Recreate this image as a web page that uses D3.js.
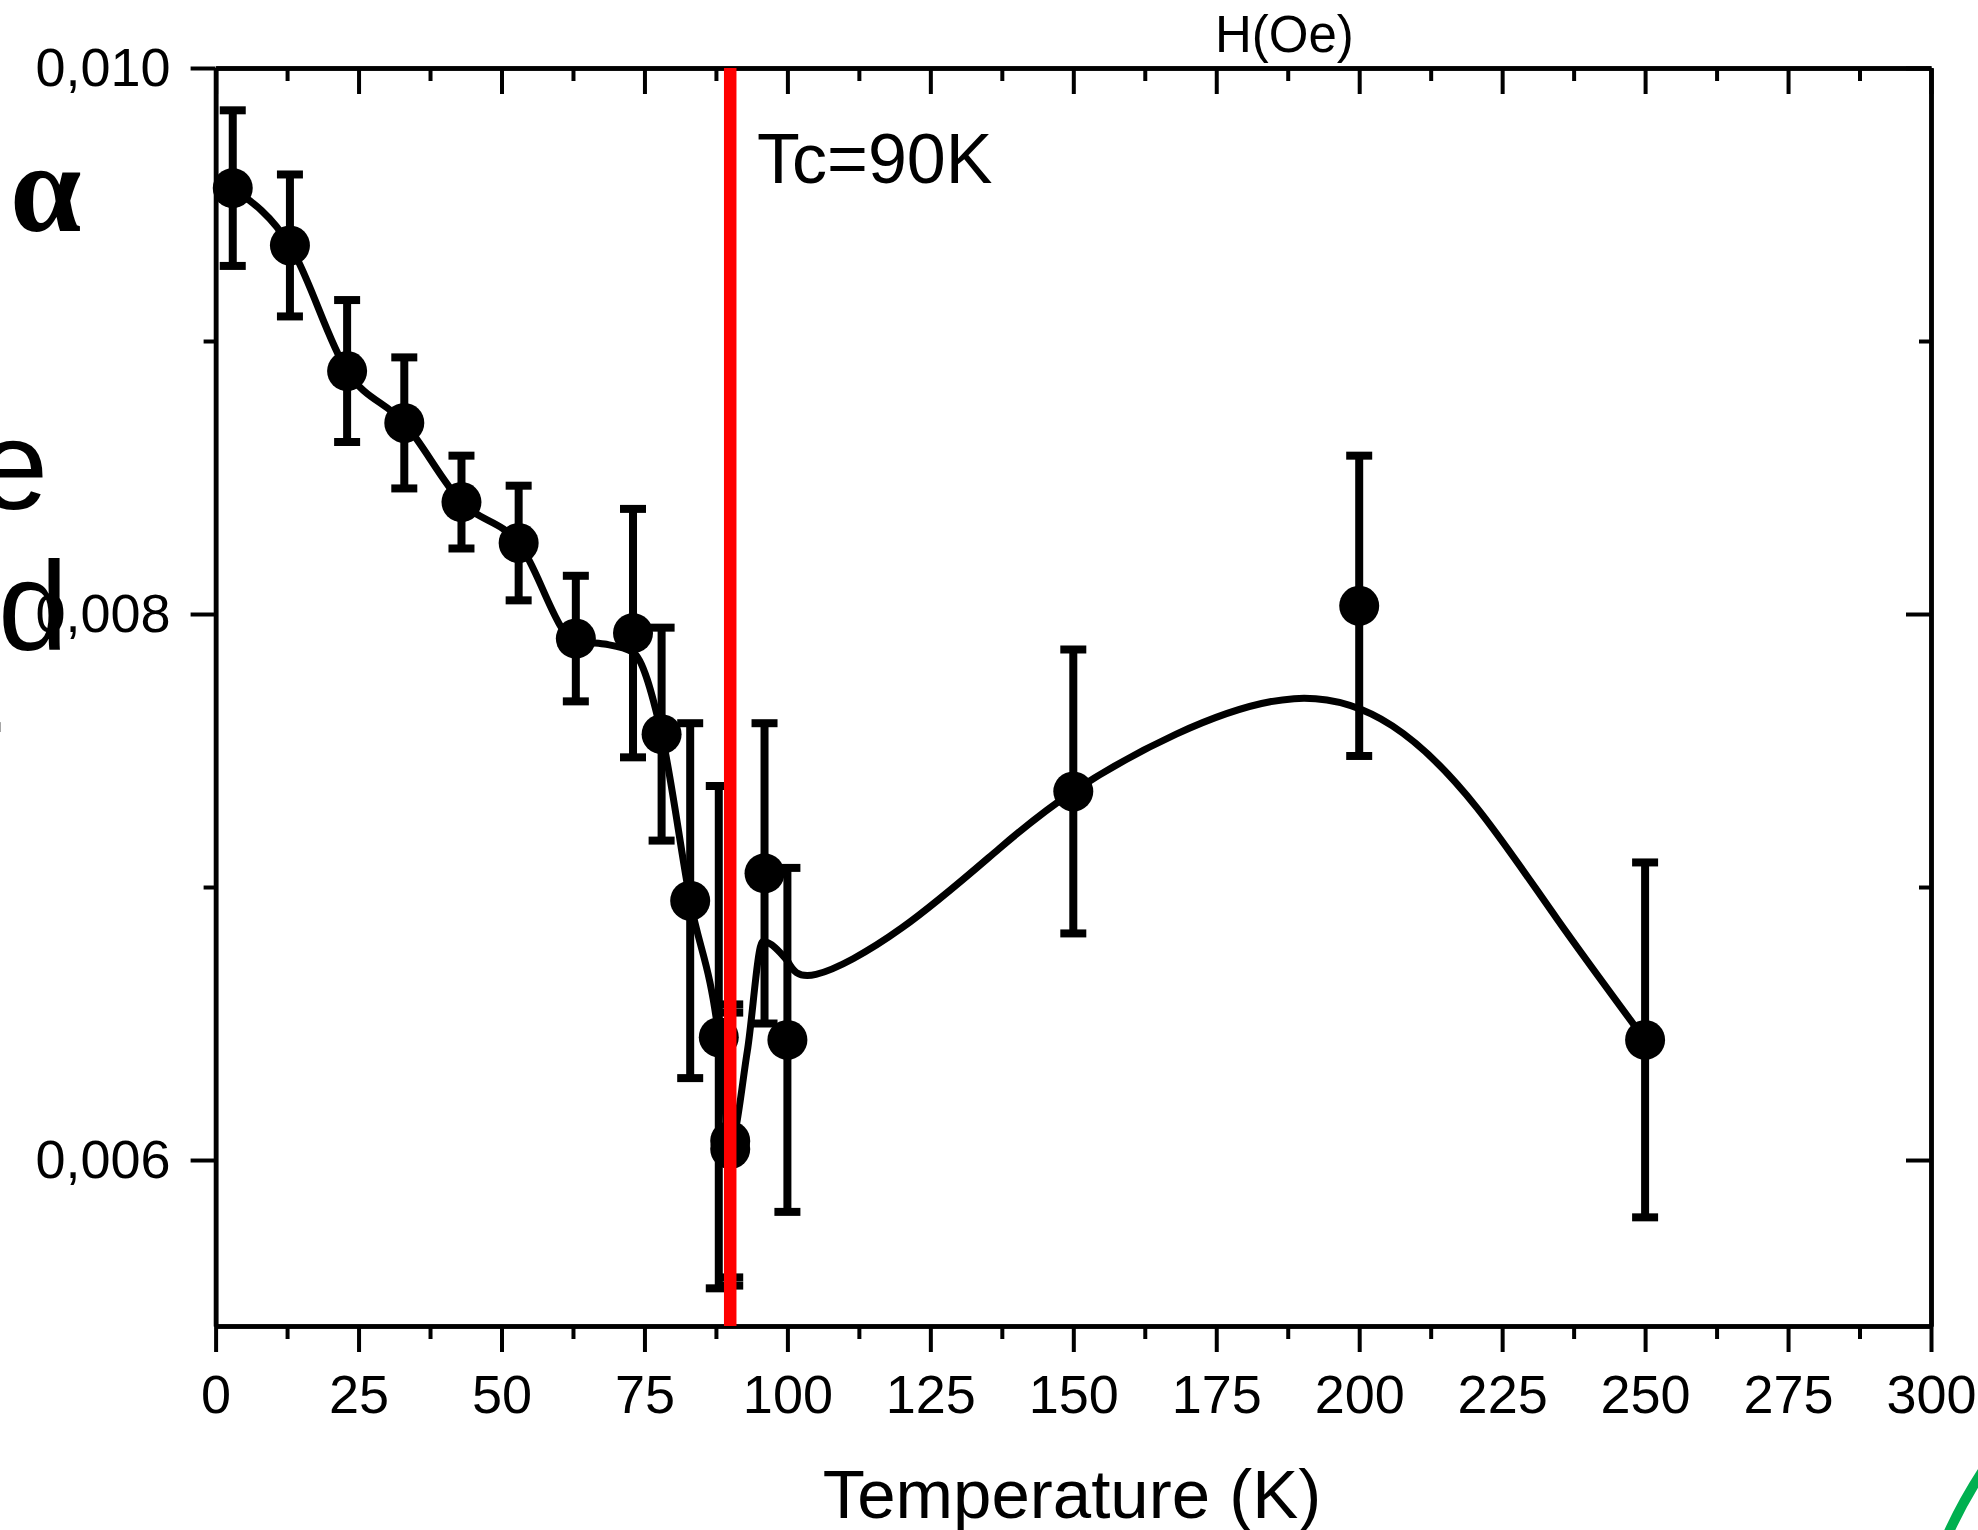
<!DOCTYPE html>
<html>
<head>
<meta charset="utf-8">
<script src="https://cdn.jsdelivr.net/npm/d3@7"></script>
<style>
  html, body { margin: 0; padding: 0; background: #fff; }
  svg { display: block; font-family: 'Liberation Sans', Arial, sans-serif; }
  .axis path, .axis line { stroke: #000; }
  .axis path { stroke-width: 4.5; }
  .axis line { stroke-width: 4; }
</style>
</head>
<body>
<div id="chart"></div>
<script>
// measured points (T in K, damping value, error)
const temps = [3, 13, 23, 33, 43, 53, 63, 73, 78, 83, 88, 90, 90, 96, 100, 150, 200, 250];
const alphas = [0.00956, 0.00935, 0.00889, 0.00870, 0.00841, 0.00826, 0.00791, 0.00793, 0.00756, 0.00695,
  0.00645, 0.00607, 0.00604, 0.00705, 0.00644, 0.00735, 0.00803, 0.00644];
const errors = [0.000285, 0.00026, 0.00026, 0.00024, 0.00017, 0.00021, 0.00023, 0.000455, 0.00039, 0.00065,
  0.00092, 0.0005, 0.0005, 0.00055, 0.00063, 0.00052, 0.00055, 0.00065];

// smooth guide curve, low-T part and high-T hump
const curveTempsLow = [3, 13, 23, 33, 43, 53, 63, 68, 73, 78, 83, 88, 90, 93, 95.7, 100];
const curveAlphasLow = [0.00956, 0.00935, 0.00889, 0.00870, 0.00841, 0.00826, 0.00790, 0.00789, 0.00786,
  0.00756, 0.00695, 0.00645, 0.00606, 0.00640, 0.00680, 0.00673];
const curveTempsHigh = [100, 105, 120, 137, 150, 168, 188.6, 205.8, 220.6, 234.7, 250];
const curveAlphasHigh = [0.00673, 0.00668, 0.00685, 0.00714, 0.00735, 0.00756, 0.00769, 0.00759, 0.00729,
  0.00688, 0.00644];

const xMajorTicks = [0, 25, 50, 75, 100, 125, 150, 175, 200, 225, 250, 275, 300];
const xMinorTicks = [12.5, 37.5, 62.5, 87.5, 112.5, 137.5, 162.5, 187.5, 212.5, 237.5, 262.5, 287.5];
const yMajorTicks = [0.006, 0.008, 0.010];
const yMinorTicks = [0.007, 0.009];
const tcValue = 90;

const width = 1978;
const height = 1530;
const margins = { top: 68, bottom: 204, left: 215.6, right: 47 };

const svg = d3.select('#chart').append('svg')
  .attr('width', width)
  .attr('height', height);

const xScale = d3.scaleLinear()
  .domain([0, 300])
  .range([margins.left, width - margins.right]);

const yScale = d3.scaleLinear()
  .domain([0.005392, 0.010])
  .range([height - margins.bottom, margins.top]);

const plotBottom = height - margins.bottom;
const plotRight = width - margins.right;

// stray text fragments on the left edge
svg.append('text')
  .attr('x', 10)
  .attr('y', 231)
  .style('font-family', "'Liberation Serif', 'Times New Roman', serif")
  .style('font-weight', 'bold')
  .style('font-size', '128px')
  .text('α');

svg.append('text')
  .attr('x', 48)
  .attr('y', 509)
  .attr('text-anchor', 'end')
  .style('font-size', '126px')
  .text('e');

svg.append('text')
  .attr('x', 68)
  .attr('y', 650)
  .attr('text-anchor', 'end')
  .style('font-size', '126px')
  .text('od');

svg.append('text')
  .attr('x', 6)
  .attr('y', 761)
  .attr('text-anchor', 'end')
  .style('font-size', '126px')
  .text('-');

// axes
const fmt = (d) => d3.format('.3f')(d).replace('.', ',');

const bottomMajor = svg.append('g')
  .attr('class', 'axis')
  .attr('transform', `translate(0,${plotBottom})`)
  .call(d3.axisBottom(xScale).tickValues(xMajorTicks).tickSize(26).tickSizeOuter(0));
bottomMajor.selectAll('.tick text')
  .attr('y', 87)
  .attr('dy', 0)
  .style('font-size', '54px')
  .style('font-family', "'Liberation Sans', Arial, sans-serif");

svg.append('g')
  .attr('class', 'axis')
  .attr('transform', `translate(0,${plotBottom})`)
  .call(d3.axisBottom(xScale).tickValues(xMinorTicks).tickSize(13).tickSizeOuter(0).tickFormat(''));

svg.append('g')
  .attr('class', 'axis')
  .attr('transform', `translate(0,${margins.top})`)
  .call(d3.axisTop(xScale).tickValues(xMajorTicks).tickSize(-26).tickSizeOuter(0).tickFormat(''));

svg.append('g')
  .attr('class', 'axis')
  .attr('transform', `translate(0,${margins.top})`)
  .call(d3.axisTop(xScale).tickValues(xMinorTicks).tickSize(-13).tickSizeOuter(0).tickFormat(''));

const leftMajor = svg.append('g')
  .attr('class', 'axis')
  .attr('transform', `translate(${margins.left},0)`)
  .call(d3.axisLeft(yScale).tickValues(yMajorTicks).tickSize(25).tickSizeOuter(0).tickFormat(fmt));
leftMajor.selectAll('.tick text')
  .attr('x', -45)
  .attr('dy', '0.33em')
  .style('font-size', '54px')
  .style('font-family', "'Liberation Sans', Arial, sans-serif");

svg.append('g')
  .attr('class', 'axis')
  .attr('transform', `translate(${margins.left},0)`)
  .call(d3.axisLeft(yScale).tickValues(yMinorTicks).tickSize(12).tickSizeOuter(0).tickFormat(''));

svg.append('g')
  .attr('class', 'axis')
  .attr('transform', `translate(${plotRight},0)`)
  .call(d3.axisRight(yScale).tickValues(yMajorTicks).tickSize(-25).tickSizeOuter(0).tickFormat(''));

svg.append('g')
  .attr('class', 'axis')
  .attr('transform', `translate(${plotRight},0)`)
  .call(d3.axisRight(yScale).tickValues(yMinorTicks).tickSize(-12).tickSizeOuter(0).tickFormat(''));

// axis titles
svg.append('text')
  .attr('x', 1072)
  .attr('y', 1518)
  .attr('text-anchor', 'middle')
  .style('font-size', '69px')
  .text('Temperature (K)');

svg.append('text')
  .attr('x', 1215)
  .attr('y', 52)
  .style('font-size', '51px')
  .text('H(Oe)');

// data
const points = temps.map((t, i) => ({ t, v: alphas[i], e: errors[i] }));
const curveLow = curveTempsLow.map((t, i) => ({ t, v: curveAlphasLow[i] }));
const curveHigh = curveTempsHigh.map((t, i) => ({ t, v: curveAlphasHigh[i] }));

const dataGroup = svg.append('g').attr('class', 'dataGroup');

const bars = dataGroup.selectAll('.errbar')
  .data(points)
  .enter()
  .append('g')
  .attr('class', 'errbar');

bars.append('line')
  .attr('x1', (d) => xScale(d.t))
  .attr('x2', (d) => xScale(d.t))
  .attr('y1', (d) => yScale(d.v + d.e))
  .attr('y2', (d) => yScale(d.v - d.e))
  .style('stroke', '#000')
  .style('stroke-width', 8);

[1, -1].forEach((sign) => {
  bars.append('line')
    .attr('x1', (d) => xScale(d.t) - 13)
    .attr('x2', (d) => xScale(d.t) + 13)
    .attr('y1', (d) => yScale(d.v + sign * d.e))
    .attr('y2', (d) => yScale(d.v + sign * d.e))
    .style('stroke', '#000')
    .style('stroke-width', 8);
});

const lowLine = d3.line()
  .x((d) => xScale(d.t))
  .y((d) => yScale(d.v))
  .curve(d3.curveMonotoneX);

const highLine = d3.line()
  .x((d) => xScale(d.t))
  .y((d) => yScale(d.v))
  .curve(d3.curveNatural);

dataGroup.append('path')
  .datum(curveLow)
  .attr('d', lowLine)
  .style('fill', 'none')
  .style('stroke', '#000')
  .style('stroke-width', 7)
  .style('stroke-linecap', 'round');

dataGroup.append('path')
  .datum(curveHigh)
  .attr('d', highLine)
  .style('fill', 'none')
  .style('stroke', '#000')
  .style('stroke-width', 7)
  .style('stroke-linecap', 'round');

dataGroup.selectAll('.dot')
  .data(points)
  .enter()
  .append('circle')
  .attr('class', 'dot')
  .attr('cx', (d) => xScale(d.t))
  .attr('cy', (d) => yScale(d.v))
  .attr('r', 20)
  .style('fill', '#000');

// Tc marker
svg.append('line')
  .attr('x1', xScale(tcValue))
  .attr('x2', xScale(tcValue))
  .attr('y1', margins.top)
  .attr('y2', plotBottom)
  .style('stroke', '#ff0000')
  .style('stroke-width', 12.5);

svg.append('text')
  .attr('x', 757)
  .attr('y', 183)
  .style('font-size', '70px')
  .text('Tc=90K');

// green fragment in the corner
svg.append('path')
  .attr('d', 'M1948,1534 Q1962,1503 1982,1472')
  .style('fill', 'none')
  .style('stroke', '#00b050')
  .style('stroke-width', 10);
</script>
</body>
</html>
